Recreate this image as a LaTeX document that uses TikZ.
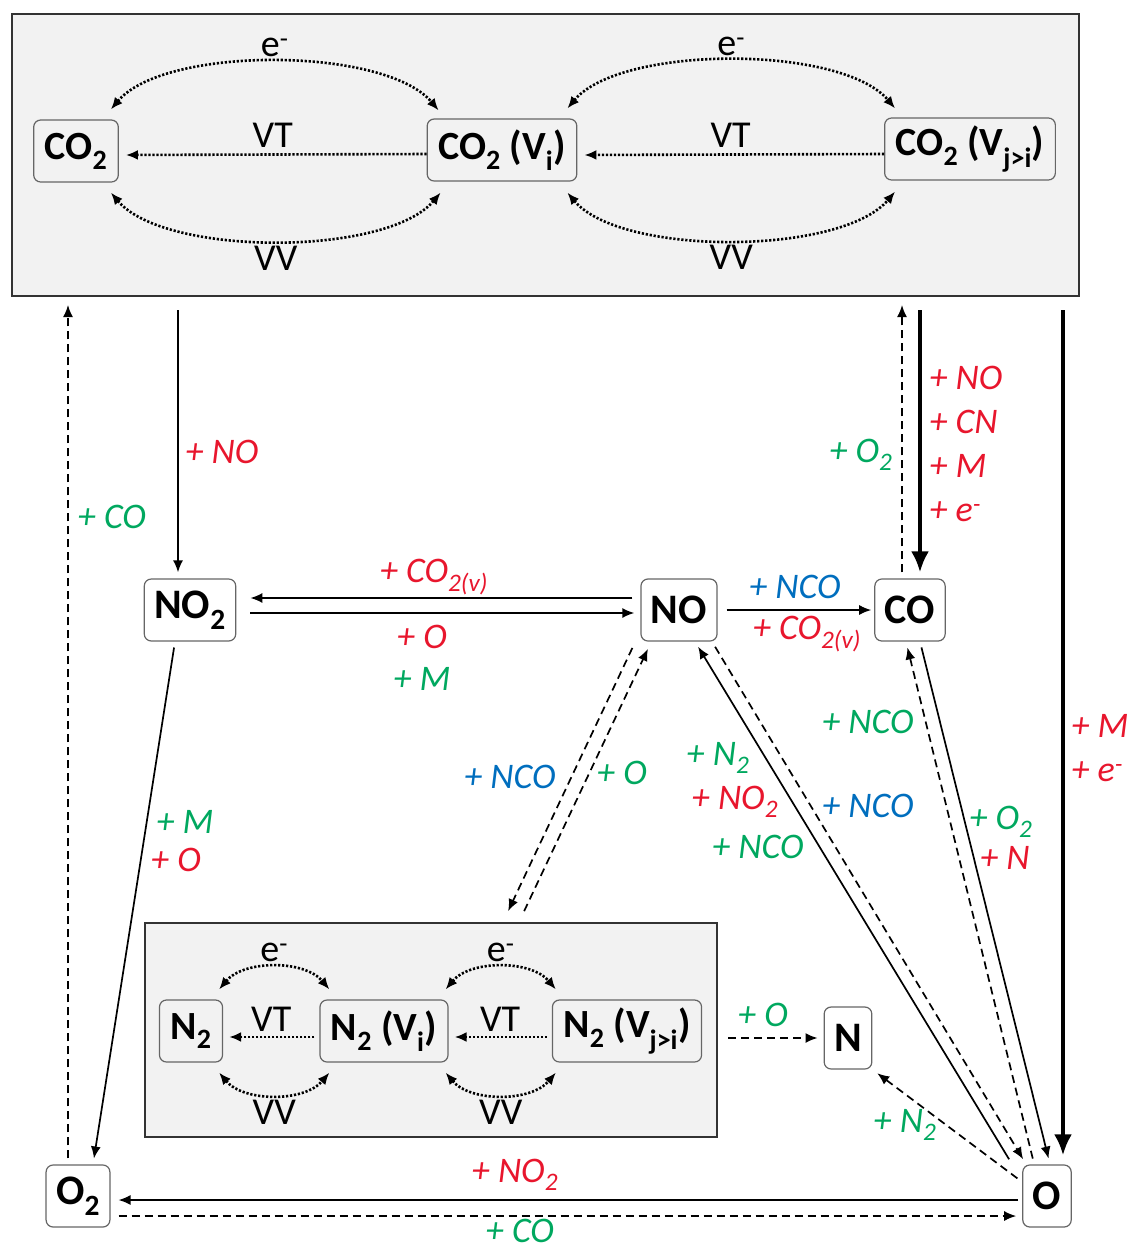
\documentclass[tikz,border=0pt]{standalone}
\usepackage{fontspec}
\setmainfont{Carlito}
\usetikzlibrary{arrows.meta}

\definecolor{rxred}{RGB}{232,22,45}
\definecolor{rxgreen}{RGB}{0,168,95}
\definecolor{rxblue}{RGB}{0,110,190}
\definecolor{panelgray}{RGB}{242,242,242}

\begin{document}
\begin{tikzpicture}[x=1pt, y=-1pt, >={Latex[length=12pt, width=10pt]},
    species/.style={draw=black!60, line width=1.2pt, rounded corners=7pt,
        inner xsep=10pt, minimum height=62pt, font=\bfseries\fontsize{42}{44}\selectfont},
    vibstate/.style={species, inner xsep=11pt, font=\bfseries\fontsize{40}{44}\selectfont},
    panel/.style={draw=black!80, line width=2pt, fill=panelgray},
    rx/.style={->, line width=1.7pt, shorten >=6pt, shorten <=6pt},
    rxdash/.style={rx, dash pattern=on 8pt off 5pt},
    rxbold/.style={-{Latex[length=21pt, width=18pt]}, line width=4pt},
    vibarrow/.style={line width=2.6pt, dash pattern=on 2.2pt off 1.8pt},
    vtlbl/.style={font=\fontsize{38}{40}\selectfont, inner sep=4pt},
    lbl/.style={font=\itshape\fontsize{36}{44}\selectfont},
    redlbl/.style={lbl, text=rxred},
    grnlbl/.style={lbl, text=rxgreen},
    blulbl/.style={lbl, text=rxblue}]

    \useasboundingbox (0,0) rectangle (1130,1251);

    % CO2 vibrational panel
    \node[panel, minimum width=1067pt, minimum height=282pt] (co2box) at (545.5,155) {};
    \node[vibstate] (co2) at (76,151) {CO\textsubscript{2}};
    \node[vibstate] (co2vi) at (502,150) {CO\textsubscript{2} (V\textsubscript{i})};
    \node[vibstate] (co2vj) at (970,149) {CO\textsubscript{2} (V\textsubscript{j>i})};

    \draw[vibarrow, ->, shorten >=7pt] ([yshift=-4pt]co2vi.west) -- node[vtlbl, above, inner sep=6pt] {VT} ([yshift=-4pt]co2.east);
    \draw[vibarrow, ->, shorten >=7pt] ([yshift=-5pt]co2vj.west) -- node[vtlbl, above, inner sep=6pt] {VT} ([yshift=-5pt]co2vi.east);

    \draw[vibarrow, <->] ([xshift=-8pt, yshift=10pt]co2.north east) to[out=50, in=130, looseness=0.65]
        node[vtlbl, above] {e\textsuperscript{-}} ([xshift=12pt, yshift=8pt]co2vi.north west);
    \draw[vibarrow, <->] ([xshift=-10pt, yshift=10pt]co2vi.north east) to[out=50, in=130, looseness=0.65]
        node[vtlbl, above] {e\textsuperscript{-}} ([xshift=11pt, yshift=9pt]co2vj.north west);
    \draw[vibarrow, <->] ([xshift=-8pt, yshift=-10pt]co2.south east) to[out=-50, in=-130, looseness=0.65]
        node[vtlbl, below] {VV} ([xshift=14pt, yshift=-11pt]co2vi.south west);
    \draw[vibarrow, <->] ([xshift=-10pt, yshift=-11pt]co2vi.south east) to[out=-50, in=-130, looseness=0.65]
        node[vtlbl, below] {VV} ([xshift=11pt, yshift=-11pt]co2vj.south west);

    % N2 vibrational panel
    \node[panel, minimum width=572pt, minimum height=214pt] (n2box) at (431,1030) {};
    \node[vibstate] (n2) at (191,1031) {N\textsubscript{2}};
    \node[vibstate] (n2vi) at (384,1031) {N\textsubscript{2} (V\textsubscript{i})};
    \node[vibstate] (n2vj) at (627,1031) {N\textsubscript{2} (V\textsubscript{j>i})};

    \draw[vibarrow, ->, shorten <=5pt, shorten >=6pt] ([yshift=-6pt]n2vi.west) -- node[vtlbl, above] {VT} ([yshift=-6pt]n2.east);
    \draw[vibarrow, ->, shorten <=5pt, shorten >=6pt] ([yshift=-6pt]n2vj.west) -- node[vtlbl, above] {VT} ([yshift=-6pt]n2vi.east);

    \draw[vibarrow, <->] ([xshift=-4pt, yshift=10pt]n2.north east) to[out=50, in=130, looseness=0.9]
        node[vtlbl, above] {e\textsuperscript{-}} ([xshift=10pt, yshift=10pt]n2vi.north west);
    \draw[vibarrow, <->] ([xshift=-3pt, yshift=10pt]n2vi.north east) to[out=50, in=130, looseness=0.9]
        node[vtlbl, above] {e\textsuperscript{-}} ([xshift=4pt, yshift=10pt]n2vj.north west);
    \draw[vibarrow, <->] ([xshift=-4pt, yshift=-10pt]n2.south east) to[out=-50, in=-130, looseness=0.9]
        node[vtlbl, below] {VV} ([xshift=10pt, yshift=-10pt]n2vi.south west);
    \draw[vibarrow, <->] ([xshift=-3pt, yshift=-10pt]n2vi.south east) to[out=-50, in=-130, looseness=0.9]
        node[vtlbl, below] {VV} ([xshift=4pt, yshift=-10pt]n2vj.south west);

    % Species
    \node[species] (no2) at (190,610) {NO\textsubscript{2}};
    \node[species] (no) at (679,610) {NO};
    \node[species] (co) at (910,610) {CO};
    \node[species] (n) at (848,1038) {N};
    \node[species] (o2) at (78,1196) {O\textsubscript{2}};
    \node[species] (o) at (1047,1196) {O};

    % CO2 panel -> NO2
    \coordinate (c1) at (178,310);
    \draw[rx, shorten <=0pt] (c1) -- (c1 |- no2.north);
    \node[redlbl] at (222,452) {+ NO};

    % O2 -> CO2 panel
    \coordinate (c2) at (68,305);
    \draw[rxdash, shorten >=0pt] (c2 |- o2.north) -- (c2);
    \node[grnlbl] at (112,517) {+ CO};

    % CO <-> CO2 panel
    \coordinate (c3) at (902,305);
    \coordinate (c4) at (920,310);
    \draw[rxdash, shorten >=0pt] (c3 |- co.north) -- (c3);
    \draw[rxbold, shorten >=6pt] (c4) -- (c4 |- co.north);
    \node[grnlbl] at (861,455) {+ O\textsubscript{2}};
    \node[redlbl, anchor=west, align=left] at (926,444) {+ NO\\+ CN\\+ M\\+ e\textsuperscript{-}};

    % CO2 panel -> O
    \coordinate (c5) at (1063,310);
    \draw[rxbold, shorten >=9pt] (c5) -- (c5 |- o.north);
    \node[redlbl, anchor=west, align=left] at (1068,748) {+ M\\+ e\textsuperscript{-}};

    % NO2 <-> NO
    \draw[rx, shorten <=8pt, shorten >=14pt] ([yshift=12pt]no.west) -- ([yshift=12pt]no2.east);
    \draw[rx, shorten <=14pt, shorten >=6pt] ([yshift=-3pt]no2.east) -- ([yshift=-3pt]no.west);
    \node[redlbl] at (434,577) {+ CO\textsubscript{2(v)}};
    \node[redlbl] at (422,637) {+ O};
    \node[grnlbl] at (422,679) {+ M};

    % NO -> CO
    \draw[rx, shorten <=9pt, shorten >=3pt] (no.east) -- (co.west);
    \node[blulbl] at (795,587) {+ NCO};
    \node[redlbl] at (807,634) {+ CO\textsubscript{2(v)}};

    % NO2 -> O2
    \draw[rx] ([xshift=-15pt]no2.south) -- ([xshift=15pt]o2.north);
    \node[grnlbl] at (185,822) {+ M};
    \node[redlbl] at (176,860) {+ O};

    % NO <-> N2 panel
    \draw[rxdash, shorten <=7pt, shorten >=12pt] ([xshift=-5pt]no.south west) -- ([xshift=72pt]n2box.north);
    \draw[rxdash, shorten <=12pt, shorten >=8pt] ([xshift=88pt]n2box.north) -- ([xshift=11pt]no.south west);
    \node[blulbl] at (510,777) {+ NCO};
    \node[grnlbl] at (622,773) {+ O};

    % NO <-> O
    \draw[rx] ([xshift=-10pt]o.north west) -- ([xshift=16pt]no.south);
    \draw[rxdash] ([xshift=33pt]no.south) -- ([xshift=4pt]o.north west);
    \node[grnlbl] at (718,758) {+ N\textsubscript{2}};
    \node[redlbl] at (735,802) {+ NO\textsubscript{2}};
    \node[grnlbl] at (758,847) {+ NCO};
    \node[blulbl] at (868,806) {+ NCO};

    % CO <-> O
    \draw[rxdash] ([xshift=12pt]o.north west) -- ([xshift=-4pt]co.south);
    \draw[rx] ([xshift=10pt]co.south) -- ([xshift=3pt]o.north);
    \node[grnlbl] at (868,722) {+ NCO};
    \node[grnlbl] at (1001,822) {+ O\textsubscript{2}};
    \node[redlbl] at (1005,858) {+ N};

    % O <-> O2
    \draw[rx, shorten <=4pt, shorten >=8pt] ([yshift=-4pt]o.west) -- ([yshift=-4pt]o2.east);
    \draw[rxdash, shorten <=8pt, shorten >=6pt] ([yshift=-20pt]o2.east) -- ([yshift=-20pt]o.west);
    \node[redlbl] at (515,1175) {+ NO\textsubscript{2}};
    \node[grnlbl, inner sep=1pt] at (520,1231) {+ CO};

    % N2 panel -> N, O -> N
    \draw[rxdash, shorten <=10pt] (n2box.east |- n.west) -- (n.west);
    \node[grnlbl] at (763,1015) {+ O};
    \draw[rxdash] ([yshift=14pt]o.west) -- (n.south east);
    \node[grnlbl] at (905,1125) {+ N\textsubscript{2}};
\end{tikzpicture}
\end{document}
